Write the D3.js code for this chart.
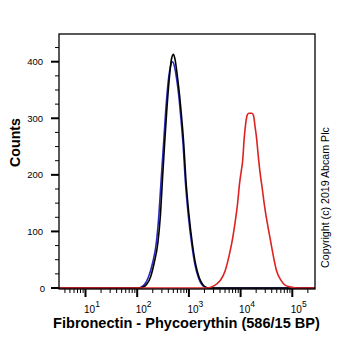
<!DOCTYPE html>
<html>
<head>
<meta charset="utf-8">
<script src="https://cdn.jsdelivr.net/npm/d3@7"></script>
<style>
  body { margin: 0; background: #fff; }
  text { font-family: "Liberation Sans", Arial, sans-serif; }
</style>
</head>
<body>
<svg width="362" height="351"></svg>
<script>
// log10 of fluorescence intensity, and counts
const blueLog = [0.49, 1.5, 1.98, 2.06, 2.14, 2.22, 2.30, 2.37, 2.42, 2.465, 2.51, 2.55, 2.60, 2.645, 2.685, 2.72, 2.77, 2.81, 2.84, 2.89, 2.93, 2.99, 3.06, 3.12, 3.19, 3.26, 3.33, 3.40, 4.5, 5.44]
const blueCounts = [0, 0, 0, 1, 6, 20, 45, 80, 130, 194, 255, 311, 365, 392, 400, 392, 365, 335, 305, 250, 190, 127, 74, 40, 17, 5, 1, 0, 0, 0]

const blackLog = [0.49, 1.5, 2.02, 2.10, 2.18, 2.26, 2.33, 2.40, 2.45, 2.49, 2.53, 2.57, 2.62, 2.66, 2.70, 2.73, 2.78, 2.82, 2.85, 2.90, 2.94, 3.00, 3.07, 3.13, 3.20, 3.27, 3.34, 3.42, 4.5, 5.44]
const blackCounts = [0, 0, 0, 1, 6, 20, 45, 80, 130, 194, 255, 311, 370, 403, 413, 405, 372, 340, 311, 255, 194, 130, 76, 42, 18, 6, 1, 0, 0, 0]

const redLog = [0.49, 2.5, 3.35, 3.44, 3.55, 3.62, 3.70, 3.78, 3.85, 3.90, 3.94, 3.98, 4.01, 4.04, 4.07, 4.10, 4.13, 4.16, 4.22, 4.25, 4.28, 4.31, 4.34, 4.375, 4.42, 4.46, 4.51, 4.57, 4.63, 4.70, 4.78, 4.86, 4.95, 5.08, 5.44]
const redCounts = [0, 0, 0, 2, 8, 15, 30, 58, 90, 120, 148, 185, 205, 225, 265, 292, 306, 309, 309, 305, 285, 264, 235, 205, 175, 147, 118, 88, 58, 29, 14, 5, 2, 0, 0]

const xMajorTicks = [10, 100, 1000, 10000, 100000]
const xMajorExp = ['1', '2', '3', '4', '5']
const yMajorTicks = [0, 100, 200, 300, 400]

const svg = d3.select('svg')
const plotLeft = 59, plotRight = 315, plotTop = 34, plotBottom = 289

const x = d3.scaleLog().domain([10, 100000]).range([85.5, 292.3])
const y = d3.scaleLinear().domain([0, 400]).range([288, 61.7])

const series = [
    {log: blueLog, counts: blueCounts, color: '#2a2ab8'},
    {log: blackLog, counts: blackCounts, color: '#000000'},
    {log: redLog, counts: redCounts, color: '#dd2222'}
]

const line = d3.line()
    .x(d => x(Math.pow(10, d[0])))
    .y(d => y(d[1]))
    .curve(d3.curveMonotoneX)

svg.append('g')
    .selectAll('path')
    .data(series)
    .join('path')
        .attr('fill', 'none')
        .attr('stroke', d => d.color)
        .attr('stroke-width', 1.6)
        .attr('stroke-linejoin', 'round')
        .attr('d', d => line(d.log.map((v, i) => [v, d.counts[i]])))

// frame
svg.append('rect')
    .attr('x', plotLeft).attr('y', plotTop)
    .attr('width', plotRight - plotLeft).attr('height', plotBottom - plotTop)
    .attr('fill', 'none').attr('stroke', '#000').attr('stroke-width', 1.3)

// y ticks
const yMinor = d3.range(25, 450, 25).filter(v => v % 100 !== 0)
svg.append('g').selectAll('line')
    .data(yMinor)
    .join('line')
        .attr('x1', plotLeft - 4).attr('x2', plotLeft)
        .attr('y1', d => y(d)).attr('y2', d => y(d))
        .attr('stroke', '#000').attr('stroke-width', 1)
svg.append('g').selectAll('line')
    .data(yMajorTicks)
    .join('line')
        .attr('x1', plotLeft - 8).attr('x2', plotLeft)
        .attr('y1', d => y(d)).attr('y2', d => y(d))
        .attr('stroke', '#000').attr('stroke-width', 2)
svg.append('g').selectAll('text')
    .data(yMajorTicks)
    .join('text')
        .attr('x', d => d === 0 ? 45 : 43)
        .attr('y', d => y(d) + 3.5)
        .attr('text-anchor', 'end')
        .style('font-size', '9.5px')
        .text(d => d)

// x ticks
const xMinor = []
for (let k = 0; k < 6; k++) {
    for (let m = 2; m <= 9; m++) {
        const v = m * Math.pow(10, k)
        if (x(v) >= plotLeft && x(v) <= plotRight) xMinor.push(v)
    }
}
svg.append('g').selectAll('line')
    .data(xMinor)
    .join('line')
        .attr('x1', d => x(d)).attr('x2', d => x(d))
        .attr('y1', plotBottom).attr('y2', plotBottom + 4)
        .attr('stroke', '#000').attr('stroke-width', 1)
svg.append('g').selectAll('line')
    .data(xMajorTicks)
    .join('line')
        .attr('x1', d => x(d)).attr('x2', d => x(d))
        .attr('y1', plotBottom).attr('y2', plotBottom + 8)
        .attr('stroke', '#000').attr('stroke-width', 2)
const xl = svg.append('g').selectAll('text')
    .data(xMajorTicks)
    .join('text')
        .attr('x', d => x(d) - 1.5)
        .attr('y', 312.5)
        .style('font-size', '10px')
xl.append('tspan').text('10')
xl.append('tspan')
    .attr('dy', -6)
    .style('font-size', '8.5px')
    .text((d, i) => xMajorExp[i])

// fit a text to a width by scaling its font size
function fitText(sel, width) {
    const w = sel.node().getComputedTextLength()
    const fs = parseFloat(sel.style('font-size'))
    sel.style('font-size', (fs * width / w) + 'px')
}

const xTitle = svg.append('text')
    .attr('x', 186.5).attr('y', 328)
    .attr('text-anchor', 'middle')
    .style('font-size', '14px').style('font-weight', 700)
    .text('Fibronectin - Phycoerythin (586/15 BP)')
fitText(xTitle, 267)

const yTitle = svg.append('text')
    .attr('transform', 'translate(20,142.5) rotate(-90)')
    .attr('text-anchor', 'middle')
    .style('font-size', '14px').style('font-weight', 700)
    .text('Counts')
fitText(yTitle, 49)

const copy = svg.append('text')
    .attr('transform', 'translate(329,197.5) rotate(-90)')
    .attr('text-anchor', 'middle')
    .style('font-size', '9px')
    .text('Copyright (c) 2019 Abcam Plc')
fitText(copy, 141)
</script>
</body>
</html>
